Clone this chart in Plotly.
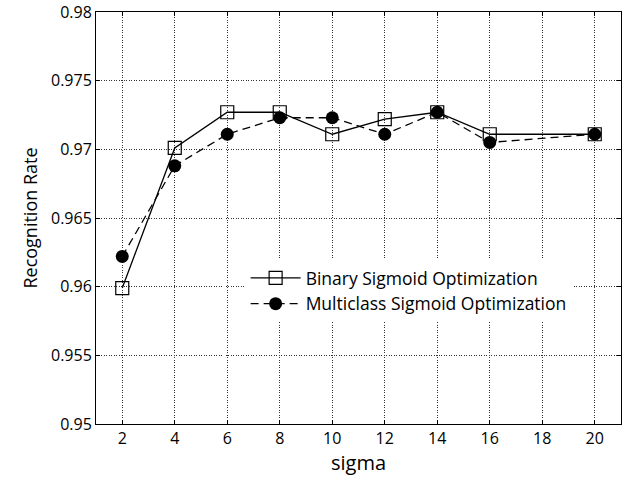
import plotly.graph_objects as go

sigma = [2, 4, 6, 8, 10, 12, 14, 16, 20]
binary_rate = [0.9599, 0.9701, 0.9727, 0.9727, 0.9711, 0.9722, 0.9727, 0.9711, 0.9711]
multi_rate = [0.9622, 0.9688, 0.9711, 0.9723, 0.9723, 0.9711, 0.9727, 0.9705, 0.9711]
x_ticks = [2, 4, 6, 8, 10, 12, 14, 16, 18, 20]
y_ticks = [0.95, 0.955, 0.96, 0.965, 0.97, 0.975, 0.98]
y_labels = ["0.95", "0.955", "0.96", "0.965", "0.97", "0.975", "0.98"]

font_family = "Open Sans, Noto Sans, sans-serif"

fig = go.Figure()
fig.add_trace(go.Scatter(
    x=sigma, y=binary_rate, mode="lines+markers",
    name="Binary Sigmoid Optimization",
    line=dict(color="black", width=1.3),
    marker=dict(symbol="square-open", size=13, color="black", line=dict(width=1.2)),
))
fig.add_trace(go.Scatter(
    x=sigma, y=multi_rate, mode="lines+markers",
    name="Multiclass Sigmoid Optimization",
    line=dict(color="black", width=1.3, dash="8px,5px"),
    marker=dict(symbol="circle", size=13, color="black"),
))

grid = dict(
    showline=True, linecolor="black", linewidth=1, mirror="allticks",
    ticks="inside", ticklen=4, tickcolor="black",
    showgrid=True, gridcolor="#333333", gridwidth=0.8, griddash="1px,1.5px",
    zeroline=False, automargin=False,
)

fig.update_xaxes(range=[1, 21], tickmode="array", tickvals=x_ticks,
                 tickfont=dict(family=font_family, size=16, color="black"),
                 title=dict(text="sigma", font=dict(family=font_family, size=20, color="black"), standoff=2),
                 **grid)
fig.update_yaxes(range=[0.95, 0.98], tickmode="array", tickvals=y_ticks, ticktext=y_labels,
                 tickfont=dict(family=font_family, size=16, color="black"),
                 title=dict(text="Recognition Rate", font=dict(family=font_family, size=18, color="black"), standoff=8),
                 **grid)

fig.update_layout(
    width=640, height=479,
    margin=dict(l=96, r=19, t=12, b=55),
    paper_bgcolor="white", plot_bgcolor="white",
    font=dict(family=font_family, color="black"),
    legend=dict(x=0.285, y=0.398, xanchor="left", yanchor="top",
                bgcolor="white", borderwidth=0,
                font=dict(family=font_family, size=17.5, color="black"),
                itemwidth=50, tracegroupgap=0),
)

fig.write_html("out.html")
